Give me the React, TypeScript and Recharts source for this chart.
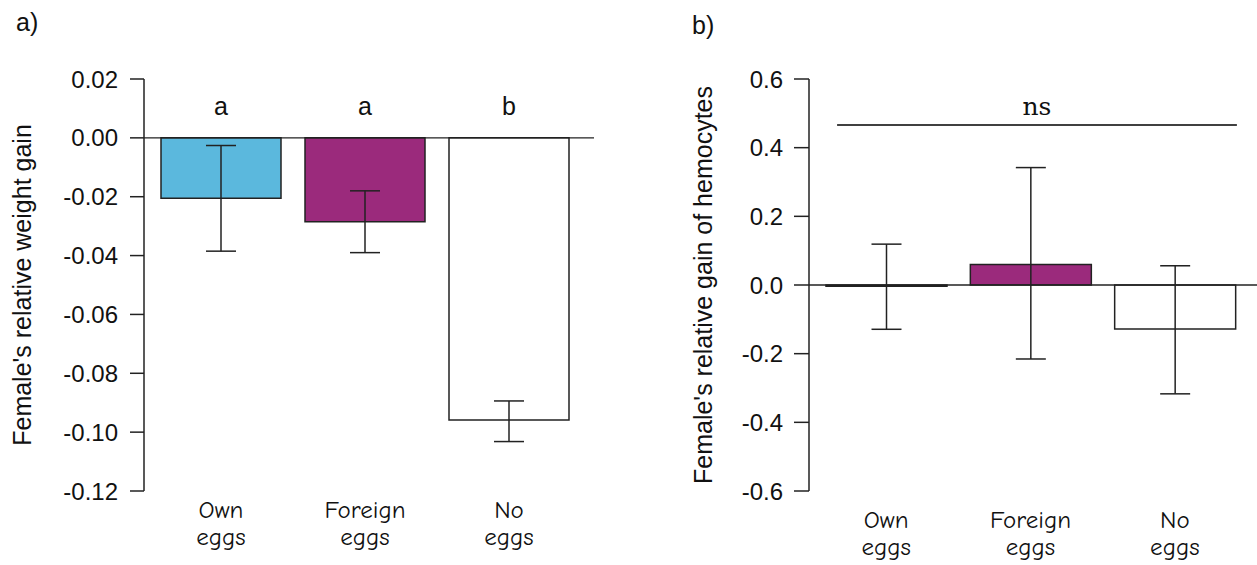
import { Bar, Cell, ComposedChart, ErrorBar, ReferenceLine, Scatter, XAxis, YAxis } from 'recharts';

const groups = ['Own eggs', 'Foreign eggs', 'No eggs'];
const barColors = ['#5bb8dd', '#9b2a7c', '#ffffff'];

// panel a) relative weight gain
const weightMean = [-0.0205, -0.0285, -0.0959];
const weightLow = [-0.0385, -0.039, -0.1032];
const weightHigh = [-0.0026, -0.018, -0.0894];
const weightLetters = ['a', 'a', 'b'];
const weightLetterLevel = 0.0078;
const weightTicks = [0.02, 0, -0.02, -0.04, -0.06, -0.08, -0.1, -0.12];

// panel b) relative gain of hemocytes
const hemoMean = [-0.004, 0.06, -0.128];
const hemoLow = [-0.129, -0.2155, -0.317];
const hemoHigh = [0.119, 0.342, 0.056];
const hemoTicks = [0.6, 0.4, 0.2, 0, -0.2, -0.4, -0.6];
const nsLevel = 0.466;
const nsSpan = [-0.34, 2.43]; // in category index units (bar centres at 0, 1, 2)

const weightData = groups.map((g, i) => ({
  group: g,
  value: weightMean[i],
  err: [weightMean[i] - weightLow[i], weightHigh[i] - weightMean[i]],
  letter: weightLetters[i],
  letterY: weightLetterLevel,
}));

const hemoData = groups.map((g, i) => ({
  group: g,
  idx: i,
  value: hemoMean[i],
  err: [hemoMean[i] - hemoLow[i], hemoHigh[i] - hemoMean[i]],
}));

const sans = '"Liberation Sans", Arial, sans-serif';
const comic = '"Comic Sans MS", "Comic Neue", "DejaVu Sans", sans-serif';
const ink = '#222';

function GroupTick({ x, y, payload, shift }: any) {
  const [first, second] = String(payload.value).split(' ');
  return (
    <text textAnchor="middle" fontFamily={comic} fontSize={25} fill="#111">
      <tspan x={x} y={y + shift}>{first}</tspan>
      <tspan x={x} y={y + shift + 27}>{second}</tspan>
    </text>
  );
}

function LetterMark(props: any) {
  return (
    <text x={props.cx} y={props.cy} textAnchor="middle" fontFamily={sans} fontSize={25} fill="#111">
      {props.payload.letter}
    </text>
  );
}

function WeightPanel() {
  return (
    <ComposedChart width={640} height={565} data={weightData} margin={{ top: 79, right: 46, bottom: 0, left: 0 }}>
      <XAxis
        dataKey="group"
        height={74}
        axisLine={false}
        tickLine={false}
        tickSize={0}
        tickMargin={0}
        padding={{ left: 5, right: 13 }}
        tick={<GroupTick shift={27} />}
        interval={0}
      />
      <YAxis
        width={144}
        domain={[-0.12, 0.02]}
        ticks={weightTicks}
        interval={0}
        allowDataOverflow
        tickFormatter={(v: number) => v.toFixed(2)}
        tick={{ fontFamily: sans, fontSize: 24, fill: '#111' }}
        tickSize={14}
        tickMargin={12}
        axisLine={{ stroke: ink, strokeWidth: 1.5 }}
        tickLine={{ stroke: ink, strokeWidth: 1.5 }}
        label={{
          value: "Female's relative weight gain",
          angle: -90,
          position: 'insideLeft',
          offset: 22,
          style: { textAnchor: 'middle', fontFamily: sans, fontSize: 25, fill: '#111' },
        }}
      />
      <ReferenceLine y={0} stroke={ink} strokeWidth={1.3} />
      <Bar dataKey="value" barSize={120} stroke={ink} strokeWidth={1.5} isAnimationActive={false}>
        {weightData.map((d, i) => (
          <Cell key={d.group} fill={barColors[i]} />
        ))}
        <ErrorBar dataKey="err" width={15} stroke={ink} strokeWidth={1.5} isAnimationActive={false} />
      </Bar>
      <Scatter dataKey="letterY" shape={<LetterMark />} isAnimationActive={false} />
    </ComposedChart>
  );
}

function HemoPanel() {
  return (
    <ComposedChart width={617} height={565} data={hemoData} margin={{ top: 79, right: 0, bottom: 0, left: 0 }}>
      <XAxis
        dataKey="group"
        height={74}
        axisLine={false}
        tickLine={false}
        tickSize={0}
        tickMargin={0}
        padding={{ left: 5, right: 10 }}
        tick={<GroupTick shift={37} />}
        interval={0}
      />
      <XAxis
        xAxisId="span"
        dataKey="idx"
        type="number"
        domain={[-0.5, 2.5]}
        allowDataOverflow
        hide
        height={0}
        padding={{ left: 5, right: 10 }}
      />
      <YAxis
        width={169}
        domain={[-0.6, 0.6]}
        ticks={hemoTicks}
        interval={0}
        allowDataOverflow
        tickFormatter={(v: number) => v.toFixed(1)}
        tick={{ fontFamily: sans, fontSize: 24, fill: '#111' }}
        tickSize={15}
        tickMargin={11}
        axisLine={{ stroke: ink, strokeWidth: 1.5 }}
        tickLine={{ stroke: ink, strokeWidth: 1.5 }}
        label={{
          value: "Female's relative gain of hemocytes",
          angle: -90,
          position: 'insideLeft',
          offset: 63,
          style: { textAnchor: 'middle', fontFamily: sans, fontSize: 25, fill: '#111' },
        }}
      />
      <ReferenceLine y={0} stroke={ink} strokeWidth={1.3} />
      <ReferenceLine
        xAxisId="span"
        ifOverflow="visible"
        segment={[
          { x: nsSpan[0], y: nsLevel },
          { x: nsSpan[1], y: nsLevel },
        ]}
        stroke="#000"
        strokeWidth={1.6}
        label={{ value: 'ns', position: 'top', offset: 10, style: { fontFamily: '"DejaVu Serif", serif', fontSize: 25, fill: '#111' } }}
      />
      <Bar dataKey="value" barSize={121} stroke={ink} strokeWidth={1.5} isAnimationActive={false}>
        {hemoData.map((d, i) => (
          <Cell key={d.group} fill={barColors[i]} />
        ))}
        <ErrorBar dataKey="err" width={15} stroke={ink} strokeWidth={1.5} isAnimationActive={false} />
      </Bar>
    </ComposedChart>
  );
}

export default function App() {
  const panelLabel = { position: 'absolute' as const, fontFamily: sans, fontSize: 25, lineHeight: '28px', color: '#111' };
  return (
    <div style={{ position: 'absolute', left: 0, top: 0, width: 1257, height: 565, background: '#fff', overflow: 'hidden' }}>
      <div style={{ position: 'absolute', left: 0, top: 0 }}>
        <WeightPanel />
      </div>
      <div style={{ position: 'absolute', left: 640, top: 0 }}>
        <HemoPanel />
      </div>
      <div style={{ ...panelLabel, left: 16, top: 8 }}>a)</div>
      <div style={{ ...panelLabel, left: 692, top: 11 }}>b)</div>
    </div>
  );
}
